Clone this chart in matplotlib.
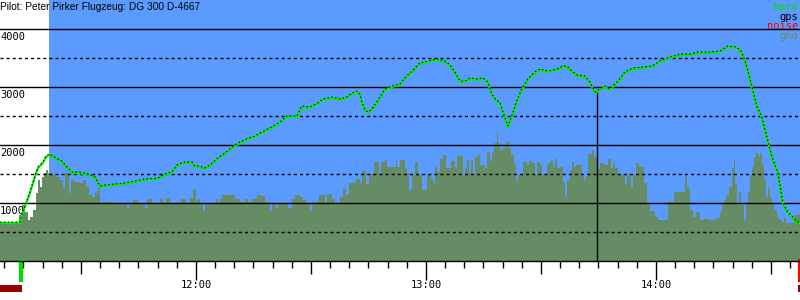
import matplotlib.pyplot as plt
import matplotlib.transforms as mtransforms
from matplotlib.patches import Rectangle

# all times are minutes after 11:00, altitudes in metres
flight_t = [8.9, 14.1, 14.9, 15.4, 16.7, 18.0, 18.8, 20.1, 20.9, 21.7, 23.2, 25.0, 26.4, 27.7,
            29.7, 31.8, 33.7, 34.4, 35.0, 36.3, 38.9, 41.5, 44.1, 46.7, 50.1, 51.9, 53.7, 55.3,
            57.1, 59.0, 59.7, 61.0, 62.3, 63.7, 65.7, 67.6, 69.4, 71.5, 73.6, 75.4, 77.2, 79.3,
            81.9, 83.7, 86.4, 87.6, 89.7, 91.8, 93.1, 95.7, 97.6, 99.4, 100.7, 102.0, 102.8,
            103.3, 104.1, 104.9, 105.9, 107.2, 109.3, 111.1, 113.2, 114.5, 116.4, 118.4, 120.5,
            123.1, 125.0, 126.3, 127.6, 128.9, 130.2, 131.5, 133.3, 134.9, 136.2, 137.2, 138.3,
            139.3, 140.1, 141.4, 142.4, 143.7, 145.0, 146.6, 148.4, 149.7, 151.8, 154.2, 155.7,
            156.8, 158.1, 159.4, 161.5, 162.8, 164.1, 165.4, 166.7, 168.0, 170.1, 171.9, 174.0,
            176.6, 179.0, 181.0, 183.7, 185.5, 186.8, 188.9, 191.0, 194.1, 196.7, 198.8, 201.1,
            202.4, 203.7, 205.0, 206.4, 207.6, 208.9, 210.3, 211.8, 213.1, 214.2, 215.5, 216.8,
            217.6]
flight_alt = [655, 655, 845, 931, 1172, 1448, 1603, 1690, 1793, 1828, 1776, 1707, 1603, 1517,
              1517, 1483, 1431, 1345, 1276, 1293, 1310, 1328, 1362, 1397, 1414, 1483, 1517, 1655,
              1690, 1690, 1621, 1621, 1586, 1638, 1759, 1845, 1948, 2034, 2103, 2138, 2207, 2276,
              2379, 2483, 2483, 2655, 2638, 2707, 2776, 2810, 2776, 2810, 2879, 2914, 2862,
              2724, 2586, 2552, 2603, 2724, 2948, 3000, 3034, 3140, 3259, 3397, 3431,
              3466, 3431, 3362, 3241, 3086, 3086, 3138, 3121, 3138, 3069, 2862, 2759,
              2724, 2552, 2310, 2483, 2741, 2948, 3121, 3241, 3293, 3259, 3293, 3345,
              3345, 3259, 3190, 3172, 3069, 2897, 2948, 3000, 2948, 3086, 3241, 3310,
              3328, 3345, 3431, 3500, 3534, 3552, 3552, 3586, 3586, 3603, 3690, 3672,
              3586, 3345, 3000, 2638, 2483, 2138, 1776, 1517, 1000, 845, 759, 655,
              655]

gnd_t = [8.9, 13.8, 14.6, 15.4, 16.2, 16.7, 17.5, 18.3, 18.8, 19.3, 19.8, 20.3, 20.9, 21.4,
         22.4, 23.5, 24.5, 25.3, 25.8, 26.9, 27.4, 28.2, 29.7, 30.5, 31.3, 32.1, 32.9, 33.7,
         34.4, 35.0, 35.7, 38.1, 42.0, 42.5, 43.6, 44.9, 46.7, 47.2, 48.5, 49.3, 50.6, 51.4,
         52.2, 53.2, 56.1, 57.4, 58.4, 59.2, 60.0, 60.3, 61.0, 61.8, 62.3, 65.2, 65.7, 66.3,
         66.8, 70.2, 71.5, 72.8, 73.6, 74.6, 75.9, 76.7, 78.0, 79.3, 79.8, 80.9, 81.4, 84.0,
         85.0, 85.8, 87.1, 87.9, 88.7, 89.7, 90.3, 92.1, 93.7, 94.2, 95.5, 96.3, 97.6, 98.4,
         99.1, 99.9, 101.8, 102.8, 103.3, 104.3, 105.1, 106.4, 107.7, 108.3, 109.3, 109.8,
         112.2, 112.4, 113.2, 114.5, 115.0, 115.6, 116.3, 117.1, 117.9, 119.0, 120.3, 121.3,
         121.8, 122.3, 122.9, 123.6, 124.4, 125.2, 126.5, 127.6, 128.1, 128.6, 129.7, 130.2,
         130.7, 131.2, 131.7, 132.3, 132.8, 133.6, 134.1, 135.4, 135.9, 136.7, 137.2, 137.7,
         138.5, 138.8, 139.3, 140.1, 140.9, 141.7, 142.2, 143.0, 143.5, 144.0, 145.3, 146.4,
         146.9, 147.7, 148.4, 148.9, 149.7, 150.3, 151.6, 152.1, 152.6, 153.1, 153.7, 154.2,
         155.0, 155.7, 156.3, 156.8, 157.6, 158.1, 158.6, 159.1, 160.7, 161.2, 161.7, 162.3,
         163.3, 163.8, 164.6, 165.4, 166.4, 167.5, 168.3, 168.8, 169.3, 170.1, 171.9, 172.4,
         173.5, 174.0, 174.8, 175.6, 176.9, 177.7, 178.4, 178.7, 179.7, 180.5, 182.6, 183.1,
         184.7, 187.6, 188.1, 188.9, 189.7, 190.4, 191.5, 192.3, 194.1, 195.7, 196.7, 197.2,
         197.7, 198.3, 199.1, 199.8, 200.3, 200.6, 201.1, 201.7, 202.2, 203.0, 203.5, 204.0,
         204.5, 205.0, 205.6, 206.1, 206.6, 207.1, 207.6, 208.2, 208.7, 209.2, 209.7, 210.3,
         210.8, 211.6, 212.1, 212.9, 213.4, 213.9, 216.0]
gnd_alt = [655, 793, 966, 845, 707, 759, 879, 1172, 1397, 1276, 1448, 1517, 1569, 1517,
           1483, 1448, 1397, 1259, 1517, 1172, 1397, 1362, 1345, 1397, 1276, 1138, 1103, 1172,
           1259, 1000, 1017, 1000, 914, 1000, 1052, 1000, 914, 1069, 980, 1000, 1069, 1000,
           1086, 1000, 1069, 1000, 1086, 1241, 1000, 1069, 1000, 862, 1000, 1069, 1000, 1069,
           1138, 1069, 1017, 1069, 1017, 1069, 1138, 1120, 1017, 862, 1000, 914, 1000, 914,
           1069, 1138, 1103, 1052, 1000, 862, 1017, 1138, 1000, 1155, 1069, 1000, 1103, 1241,
           1138, 1345, 1414, 1345, 1552, 1328, 1500, 1707, 1500, 1707, 1741, 1621,
           1759, 1621, 1741, 1600, 1517, 1224, 1483, 1707, 1483, 1224, 1483, 1414,
           1345, 1621, 1534, 1759, 1828, 1603, 1724, 1621, 1828, 1810, 1483, 1603,
           1741, 1534, 1741, 1483, 1793, 1828, 1655, 1603, 1879, 1724, 1862, 2034,
           2224, 2034, 1914, 1948, 2052, 1948, 1828, 1672, 1379, 1483, 1707, 1655,
           1724, 1690, 1483, 1707, 1655, 1483, 1672, 1707, 1741, 1621, 1759, 1603,
           1621, 1362, 1103, 1397, 1569, 1707, 1621, 1655, 1466, 1397, 1466, 1845,
           1914, 1793, 1586, 1690, 1655, 1759, 1603, 1690, 1603, 1483, 1328, 1483,
           1276, 1483, 1690, 1621, 1345, 1000, 845, 862, 759, 707, 724, 1017,
           1190, 1466, 1259, 879, 759, 845, 707, 724, 707, 741, 845, 966,
           1052, 1138, 1276, 1603, 1741, 1345, 966, 1190, 966, 707, 1017, 1190,
           1483, 1621, 1793, 1862, 1810, 1862, 1655, 1397, 1103, 1259, 1086, 1000,
           879, 759, 707, 672, 741, 655, 793]

t_start, t_end = 8.9, 217.6
sky_start = 21.7          # blue background starts here
cursor_t, cursor_alt = 164.7, 2920
takeoff_t = 14.4
hour_ticks = [60, 120, 180]
hour_labels = ['12:00', '13:00', '14:00']
legend_names = ['baro', 'gps', 'noise', 'gnd']
legend_colors = ['#00dd00', 'black', 'red', '#6e8a62']

sky = '#5b9bff'
ground = '#658c65'

fig = plt.figure(figsize=(8, 3), dpi=100)
ax = fig.add_axes([0, 39 / 300, 1, 261 / 300])
ax.set_xlim(t_start, t_end)
ax.set_ylim(0, 4500)

ax.axvspan(sky_start, t_end, color=sky, lw=0, zorder=0)
ax.fill_between(gnd_t + [t_end], gnd_alt + [gnd_alt[-1]], step='post', color=ground, lw=0, zorder=1)

for v in [1000, 2000, 3000, 4000]:
    ax.axhline(v, color='black', lw=1, zorder=2)
for v in [500, 1500, 2500, 3500]:
    ax.axhline(v, color='black', lw=1, ls=(0, (2.2, 2.2)), zorder=2)

blend = mtransforms.blended_transform_factory(ax.transAxes, ax.transData)
for v in [1000, 2000, 3000, 4000]:
    ax.text(0.0, v - 50, str(v), transform=blend, ha='left', va='top',
            fontsize=7.5, family='DejaVu Sans Mono', zorder=3)

ax.vlines(cursor_t, 0, cursor_alt, color='black', lw=1, zorder=3)

ax.plot(flight_t, flight_alt, color='#00ee00', lw=1.6, zorder=4)
up = ax.transData + mtransforms.ScaledTranslation(0, 1 / 100, fig.dpi_scale_trans)
ax.plot(flight_t, flight_alt, color='black', lw=0.7, ls=(0, (1.5, 2.5)), transform=up, zorder=5)

for s in ['top', 'left', 'right']:
    ax.spines[s].set_visible(False)
ax.spines['bottom'].set_linewidth(1)
ax.set_yticks([])

ax.set_xticks(hour_ticks)
ax.set_xticklabels(hour_labels, family='DejaVu Sans Mono', fontsize=7.5)
minor = [m for m in range(10, 218, 5) if m % 30 != 0]
ax.set_xticks(minor, minor=True)
ax.tick_params(axis='x', which='major', length=14, width=1, pad=0)
ax.tick_params(axis='x', which='minor', length=5, width=1)

sec = ax.secondary_xaxis('bottom')
sec.set_xticks([30, 90, 150, 210])
sec.tick_params(length=9, width=1, labelbottom=False)
sec.spines['bottom'].set_visible(False)

xb = mtransforms.blended_transform_factory(ax.transData, ax.transAxes)
ax.plot([takeoff_t, takeoff_t], [0, -0.073], color='#00dd00', lw=3, transform=xb, clip_on=False)
ax.plot([t_end, t_end], [0, -0.073], color='red', lw=3, transform=xb, clip_on=False)
ax.add_patch(Rectangle((t_start, -0.119), takeoff_t + 0.3 - t_start, 0.027, transform=xb,
                       color='#990000', lw=0, clip_on=False))
ax.add_patch(Rectangle((t_end - 0.6, -0.119), 0.6, 0.027, transform=xb,
                       color='#990000', lw=0, clip_on=False))

fig.text(0.0, 1 - 7 / 300, 'Pilot: Peter Pirker Flugzeug: DG 300 D-4667', ha='left', va='center',
         fontsize=7.3, family='Liberation Sans')
for i, (name, col) in enumerate(zip(legend_names, legend_colors)):
    fig.text(798 / 800, 1 - (7 + 9.7 * i) / 300, name, ha='right', va='center',
             fontsize=7.5, family='DejaVu Sans Mono', color=col)

fig.savefig('out.png', dpi=100)
